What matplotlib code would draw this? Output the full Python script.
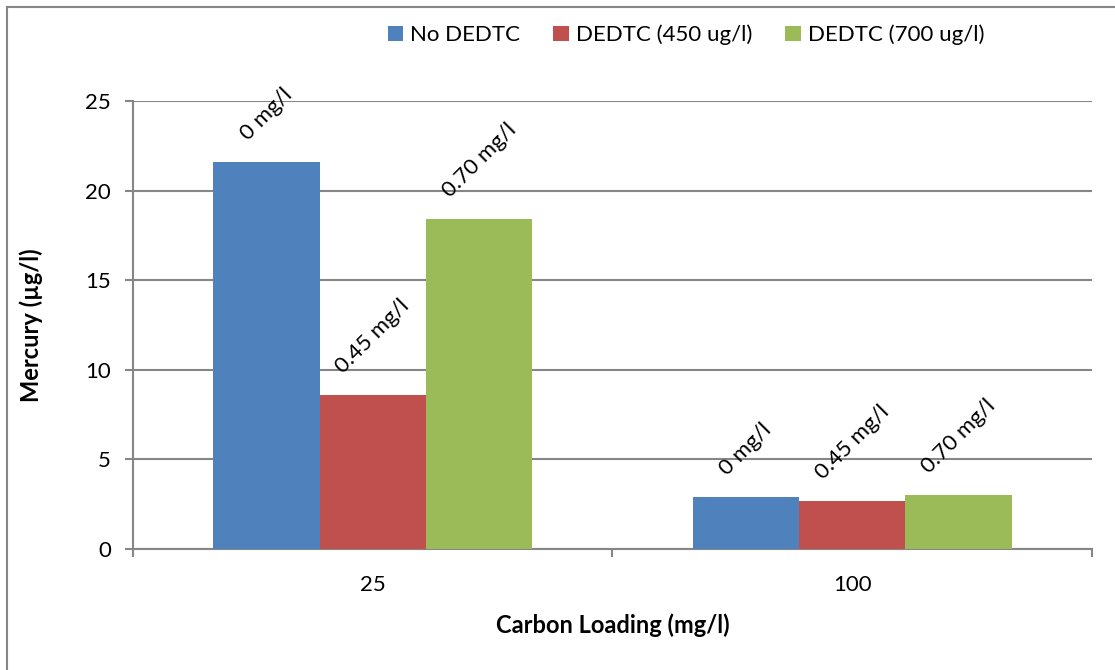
import numpy as np
import matplotlib.pyplot as plt
from matplotlib.lines import Line2D

plt.rcParams['font.family'] = ['Lato', 'DejaVu Sans']

# carbon loading groups and mercury results per DEDTC dose
loadings = ['25', '100']
series_names = ['No DEDTC', 'DEDTC (450 ug/l)', 'DEDTC (700 ug/l)']
no_dedtc = [21.6, 2.9]
dedtc_450 = [8.6, 2.7]
dedtc_700 = [18.4, 3.0]
bar_labels = ['0 mg/l', '0.45 mg/l', '0.70 mg/l']
colors = ['#4F81BD', '#C0504D', '#9BBB59']
grid_gray = '#868686'

fig = plt.figure(figsize=(11.15, 6.7), dpi=100)
ax = fig.add_axes([133 / 1115, 1 - 549 / 670, (1092 - 133) / 1115, (549 - 101) / 670])

x = np.arange(len(loadings))
width = 0.222
for i, (vals, name) in enumerate(zip([no_dedtc, dedtc_450, dedtc_700], series_names)):
    pos = x + (i - 1) * width
    ax.bar(pos, vals, width, color=colors[i], label=name, zorder=3)
    for p, v in zip(pos, vals):
        ax.annotate(bar_labels[i], (p, v), xytext=(0, 13), textcoords='offset points',
                    rotation=45, ha='center', va='bottom', fontsize=16,
                    annotation_clip=False)

ax.set_xlim(-0.5, 1.5)
ax.set_ylim(0, 25)
ax.set_yticks([0, 5, 10, 15, 20, 25])
ax.yaxis.grid(True, color=grid_gray, linewidth=1.5, zorder=0)
ax.set_axisbelow(True)

# category boundaries get the tick marks, labels sit between them
ax.set_xticks([-0.5, 0.5, 1.5])
ax.set_xticklabels([])
ax.set_xticks(x, minor=True)
ax.set_xticklabels(loadings, minor=True)
ax.tick_params(axis='x', which='minor', length=0, pad=19, labelsize=16)
ax.tick_params(axis='x', which='major', length=6, width=1.5, color=grid_gray)
ax.tick_params(axis='y', length=6, width=1.5, color=grid_gray, pad=10, labelsize=16)

for s in ['top', 'right']:
    ax.spines[s].set_visible(False)
for s in ['left', 'bottom']:
    ax.spines[s].set_color(grid_gray)
    ax.spines[s].set_linewidth(1.5)

ax.set_xlabel('Carbon Loading (mg/l)', fontsize=17, fontweight='bold', labelpad=13)
ax.set_ylabel('Mercury (µg/l)', fontsize=17, fontweight='bold', labelpad=30)

fig.legend(loc='center', bbox_to_anchor=(686 / 1115, 1 - 35 / 670), ncol=3, frameon=False,
           fontsize=16, handlelength=0.7, handleheight=0.7, handletextpad=0.3,
           columnspacing=1.5)

# chart border along the top and left edges
fig.add_artist(Line2D([7 / 1115, 1.0], [1 - 7 / 670, 1 - 7 / 670], color=grid_gray,
                      linewidth=1.5, transform=fig.transFigure))
fig.add_artist(Line2D([7 / 1115, 7 / 1115], [1 - 7 / 670, 0.0], color=grid_gray,
                      linewidth=1.5, transform=fig.transFigure))

fig.savefig('out.png', dpi=100)
